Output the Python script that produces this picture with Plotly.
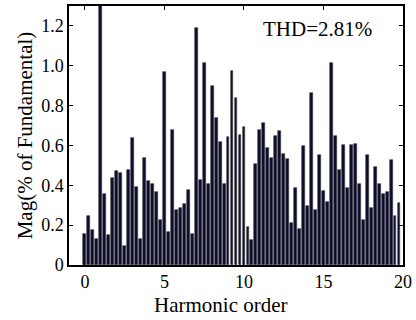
import plotly.graph_objects as go

# Harmonic orders (quarter-order resolution) and magnitudes (% of fundamental)
harmonic_order = [i / 4 for i in range(80)]
magnitude = [
    0.158, 0.247, 0.175, 0.133, 100.0, 0.358, 0.150, 0.437, 0.472, 0.462,
    0.095, 0.478, 0.638, 0.392, 0.132, 0.538, 0.422, 0.405, 0.367, 0.225,
    0.967, 0.167, 0.678, 0.275, 0.288, 0.308, 0.375, 0.158, 1.192, 0.428,
    1.013, 0.408, 0.897, 0.737, 0.617, 0.408, 0.645, 0.975, 0.838, 0.655,
    0.695, 0.192, 0.128, 0.505, 0.678, 0.713, 0.588, 0.538, 0.647, 0.672,
    0.555, 0.533, 0.212, 0.388, 0.180, 0.595, 0.297, 0.862, 0.278, 0.550,
    0.370, 0.317, 1.013, 0.650, 0.478, 0.600, 0.388, 0.600, 0.605, 0.408,
    0.225, 0.550, 0.287, 0.492, 0.405, 0.355, 0.367, 0.525, 0.247, 0.313,
]
x_ticks = [0, 5, 10, 15, 20]
y_ticks = [0, 0.2, 0.4, 0.6, 0.8, 1.0, 1.2]
y_tick_labels = ["0", "0.2", "0.4", "0.6", "0.8", "1.0", "1.2"]
thd_text = "THD=2.81%"
x_title = "Harmonic order"
y_title = "Mag(% of Fundamental)"

font_family = "Liberation Serif, Times New Roman, serif"

fig = go.Figure(
    go.Bar(
        x=harmonic_order,
        y=magnitude,
        marker=dict(color="#0c0c30", line=dict(color="#3a3a3a", width=0.6)),
        width=0.18,
    )
)

axis_common = dict(
    showline=True, linecolor="black", linewidth=1.5, mirror="ticks",
    ticks="inside", ticklen=4, tickcolor="black", tickwidth=1,
    showgrid=False, zeroline=False,
    tickfont=dict(family=font_family, size=18, color="black"),
)

fig.update_layout(
    width=416, height=320,
    margin=dict(l=69, r=9, t=4, b=55),
    paper_bgcolor="white", plot_bgcolor="white",
    showlegend=False,
    bargap=0,
    xaxis=dict(range=[-1, 20], tickvals=x_ticks, **axis_common),
    yaxis=dict(
        range=[0, 1.3], tickvals=y_ticks, ticktext=y_tick_labels,
        title=dict(text=y_title, standoff=3,
                   font=dict(family=font_family, size=21, color="black")),
        **axis_common,
    ),
    annotations=[
        dict(
            text=thd_text, x=0.745, y=0.91, xref="paper", yref="paper",
            xanchor="center", yanchor="middle", showarrow=False,
            font=dict(family=font_family, size=21, color="black"),
        ),
        dict(
            text=x_title, x=223, y=-40, xref="x domain", yref="paper",
            showarrow=False, xanchor="center", yanchor="middle",
            font=dict(family=font_family, size=21, color="black"),
        ),
    ],
)
# place x-axis title in pixel coordinates
fig.layout.annotations[1].update(xref="paper", x=(223 - 69) / (416 - 69 - 9),
                                 y=-(305 - 265) / (320 - 4 - 55), yref="paper")

fig.write_html("out.html")
